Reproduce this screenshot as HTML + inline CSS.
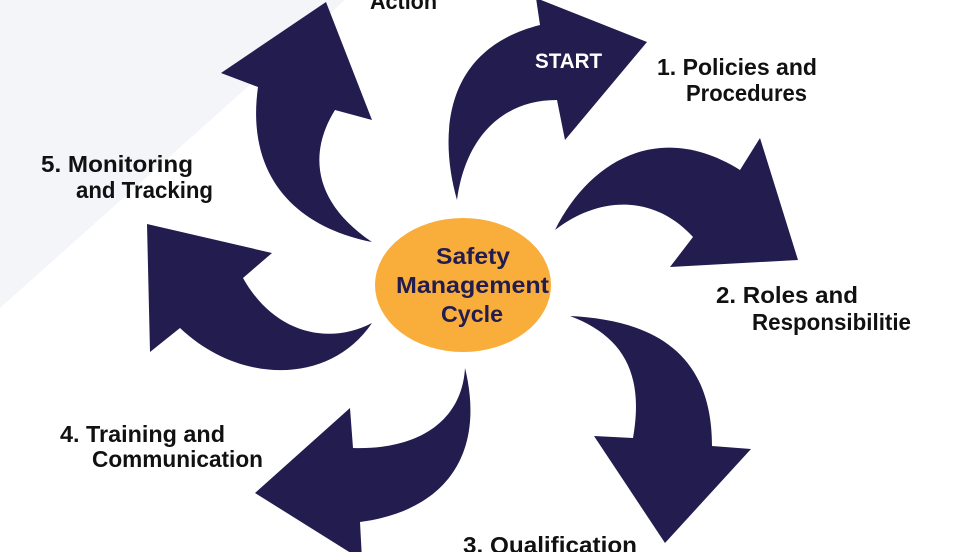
<!DOCTYPE html>
<html><head><meta charset="utf-8"><style>html,body{margin:0;padding:0;background:#fff}svg{display:block}</style></head>
<body>
<svg width="980" height="552" viewBox="0 0 980 552" xmlns="http://www.w3.org/2000/svg">
<rect width="980" height="552" fill="#fff"/>
<polygon points="0,0 345,0 0,308" fill="#f4f5f9"/>
<g fill="#221c4f">
<path d="M457,200 C440,140 440,50 540,25 L536,-2 L647,42 L565,140 L557,100 C500,100 465,140 457,200 Z"/>
<path d="M555,230 C590,160 660,120 740,170 L760,138 L798,260 L670,267 L693,237 C655,195 600,195 555,230 Z"/>
<path d="M570,316 C650,320 712,350 712,446 L751,449 L665,543 L594,436 L633,438 C645,370 620,335 570,316 Z"/>
<path d="M465,368 C485,450 450,510 360,522 L362,560 L255,493 L350,408 L353,448 C420,450 462,420 465,368 Z"/>
<path d="M147,224 L272,253 L243,278 C275,335 330,345 372,323 C330,385 240,385 180,328 L150,352 Z"/>
<path d="M372,242 C300,228 245,180 258,87 L221,73 L326,2 L372,120 L335,110 C310,150 310,200 372,242 Z"/>
</g>
<ellipse cx="463" cy="285" rx="88" ry="67" fill="#f9ae3c"/>
<g font-family="'Liberation Sans Narrow','Liberation Sans',sans-serif" font-weight="bold" font-size="23" lengthAdjust="spacingAndGlyphs">
<text x="436" y="264" fill="#221c4f" textLength="74" lengthAdjust="spacingAndGlyphs">Safety</text>
<text x="396" y="293" fill="#221c4f" textLength="153" lengthAdjust="spacingAndGlyphs">Management</text>
<text x="441" y="322" fill="#221c4f" textLength="62" lengthAdjust="spacingAndGlyphs">Cycle</text>
<text x="535" y="68" fill="#fff" font-size="21" textLength="67" lengthAdjust="spacingAndGlyphs">START</text>
<g fill="#111">
<text x="370" y="9" textLength="67" lengthAdjust="spacingAndGlyphs">Action</text>
<text x="657" y="75" textLength="160" lengthAdjust="spacingAndGlyphs">1. Policies and</text>
<text x="686" y="101" textLength="121" lengthAdjust="spacingAndGlyphs">Procedures</text>
<text x="716" y="303" textLength="142" lengthAdjust="spacingAndGlyphs">2.  Roles and</text>
<text x="752" y="330" textLength="159" lengthAdjust="spacingAndGlyphs">Responsibilitie</text>
<text x="463" y="553" textLength="174" lengthAdjust="spacingAndGlyphs">3.  Qualification</text>
<text x="60" y="442" textLength="165" lengthAdjust="spacingAndGlyphs">4.  Training and</text>
<text x="92" y="467" textLength="171" lengthAdjust="spacingAndGlyphs">Communication</text>
<text x="41" y="172" textLength="152" lengthAdjust="spacingAndGlyphs">5.  Monitoring</text>
<text x="76" y="198" textLength="137" lengthAdjust="spacingAndGlyphs">and Tracking</text>
</g>
</g>
</svg>
</body></html>
